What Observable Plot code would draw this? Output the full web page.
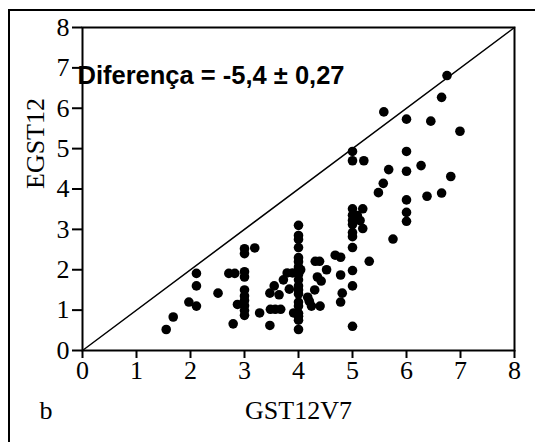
<!DOCTYPE html>
<html>
<head>
<meta charset="utf-8">
<script src="https://cdn.jsdelivr.net/npm/d3@7"></script>
<script src="https://cdn.jsdelivr.net/npm/@observablehq/plot@0.6"></script>
<style>
  html, body { margin: 0; padding: 0; background: #fff; }
  #wrap { position: relative; width: 535px; height: 442px; overflow: hidden; }
  #border { position: absolute; left: 7.5px; top: 9px; width: 700px; height: 700px;
            border-left: 2px solid #000; border-top: 2px solid #000; box-sizing: border-box; }
  #chart { position: absolute; left: 0; top: 0; }
</style>
</head>
<body>
<div id="wrap"><div id="border"></div><div id="chart"></div></div>
<script>
// GST12V7 (x) and EGST12 (y) values
const gst12v7 = [
  1.55, 1.68, 1.97, 2.11, 2.11, 2.11, 2.51, 2.71, 2.82, 2.79, 2.87,
  3, 3, 3, 3, 3, 3, 3, 3, 3, 3,
  3.19, 3.28, 3.47, 3.47, 3.48, 3.57, 3.67, 3.55, 3.64, 3.72, 3.79, 3.83, 3.89, 3.91,
  4, 4, 4, 4, 4, 4, 4, 4, 4, 4, 4, 4, 4, 4, 4, 4, 4, 4, 4,
  4.04, 4.17, 4.2, 4.24, 4.3, 4.31, 4.39, 4.35, 4.42, 4.4, 4.52, 4.68, 4.78, 4.78, 4.81, 4.78,
  5, 5, 5, 5, 5, 5, 5, 5, 5, 5, 5, 5,
  5.21, 5.19, 5.09, 5.14, 5.19, 5.31, 5.48, 5.57, 5.58, 5.67, 5.75,
  6, 6, 6, 6, 6, 6,
  6.27, 6.38, 6.45, 6.65, 6.65, 6.75, 6.82, 6.99
];
const egst12 = [
  0.52, 0.83, 1.2, 1.1, 1.6, 1.91, 1.42, 1.91, 1.91, 0.66, 1.14,
  2.52, 2.4, 1.95, 1.82, 1.5, 1.35, 1.24, 1.11, 0.99, 0.87,
  2.54, 0.93, 1.42, 0.62, 1.02, 1.02, 1.02, 1.6, 1.38, 1.75, 1.92, 1.52, 1.92, 0.93,
  3.1, 2.85, 2.75, 2.55, 2.3, 2.2, 2.07, 1.98, 1.88, 1.75, 1.6, 1.5, 1.4, 1.2, 1.1, 0.92, 0.85, 0.75, 0.52,
  2.0, 1.32, 1.22, 1.1, 1.5, 2.21, 2.21, 1.82, 1.72, 1.1, 2.0, 2.36, 2.31, 1.87, 1.42, 1.2,
  4.93, 4.7, 3.51, 3.35, 3.22, 3.12, 2.92, 2.82, 2.55, 1.98, 1.6, 0.6,
  4.7, 3.51, 3.34, 3.22, 3.02, 2.21, 3.91, 4.14, 5.91, 4.48, 2.76,
  5.73, 4.93, 4.44, 3.73, 3.42, 3.2,
  4.58, 3.82, 5.68, 6.27, 3.9, 6.81, 4.31, 5.43
];
const xTicks = [0, 1, 2, 3, 4, 5, 6, 7, 8];
const yTicks = [0, 1, 2, 3, 4, 5, 6, 7, 8];
const identityLine = [0, 8];
const xLabel = "GST12V7";
const yLabel = "EGST12";
const panelLabel = "b";
const annotation = "Diferença = -5,4 ± 0,27";

const points = gst12v7.map((x, i) => ({x, y: egst12[i]}));
const serif = "'Liberation Serif', 'Times New Roman', serif";

const chart = Plot.plot({
  width: 535,
  height: 442,
  marginLeft: 82,
  marginRight: 21,
  marginTop: 27,
  marginBottom: 92,
  style: {background: "transparent", overflow: "visible"},
  x: {domain: [0, 8]},
  y: {domain: [0, 8]},
  marks: [
    Plot.line(identityLine, {x: d => d, y: d => d, stroke: "#000", strokeWidth: 1.5}),
    Plot.dot(points, {x: "x", y: "y", r: 4.8, fill: "#000", stroke: "none"}),
    Plot.frame({stroke: "#000", strokeWidth: 2}),
    Plot.axisX({ticks: xTicks, tickFormat: d => String(d), tickSize: 8, tickPadding: 2,
      strokeWidth: 2, fontSize: 26, fontFamily: serif, label: null, fill: "#000"}),
    Plot.axisY({ticks: yTicks, tickFormat: d => String(d), tickSize: 10, tickPadding: 3,
      strokeWidth: 2, fontSize: 26, fontFamily: serif, label: null, fill: "#000"}),
    Plot.text([xLabel], {text: d => d, frameAnchor: "bottom", lineAnchor: "middle", dy: 60,
      fontSize: 26, fontFamily: serif, fill: "#000"}),
    Plot.text([panelLabel], {text: d => d, frameAnchor: "bottom-left", textAnchor: "start", lineAnchor: "middle", dx: -43, dy: 60,
      fontSize: 26, fontFamily: serif, fill: "#000"}),
    Plot.text([yLabel], {text: d => d, frameAnchor: "left", rotate: -90, lineAnchor: "middle", dx: -47,
      fontSize: 26, fontFamily: serif, fill: "#000"}),
    Plot.text([annotation], {text: d => d, frameAnchor: "top-left", textAnchor: "start", lineAnchor: "middle", dx: -5, dy: 48,
      fontSize: 25.5, fontWeight: "bold", fontFamily: "'Liberation Sans', Arial, sans-serif", fill: "#000"})
  ]
});
document.getElementById("chart").appendChild(chart);
</script>
</body>
</html>
